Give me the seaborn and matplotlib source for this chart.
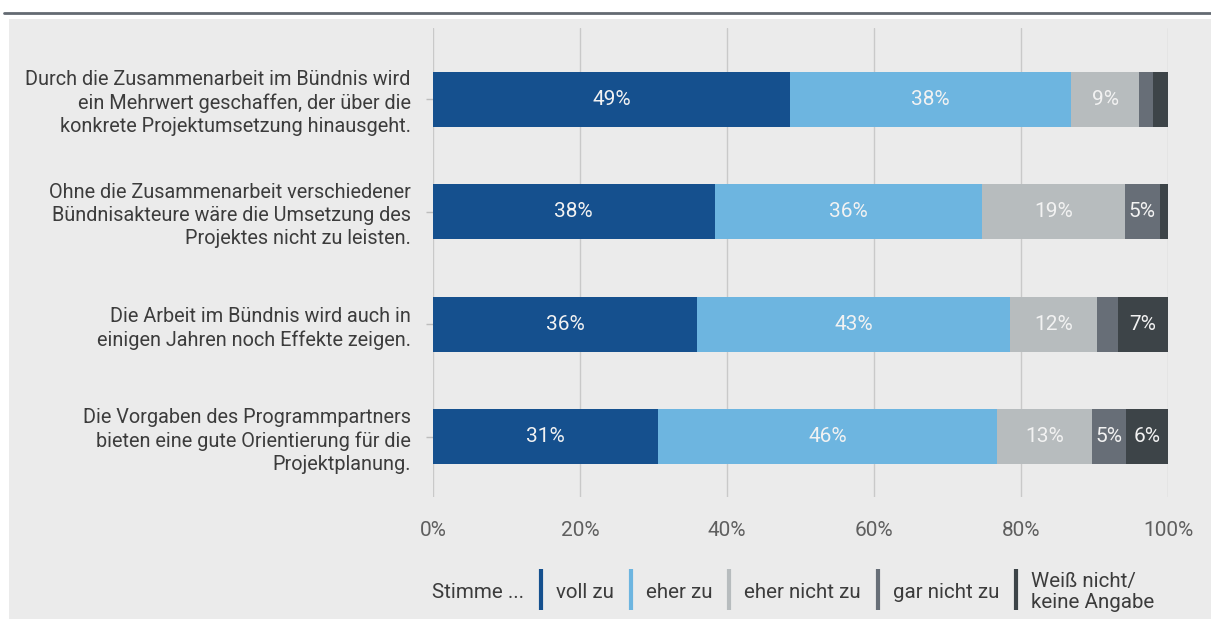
import matplotlib
matplotlib.use("Agg")
import matplotlib.pyplot as plt
from matplotlib.lines import Line2D
from matplotlib.patches import Rectangle
import numpy as np
import pandas as pd
import seaborn as sns

statements = [
    "Durch die Zusammenarbeit im Bündnis wird\nein Mehrwert geschaffen, der über die\nkonkrete Projektumsetzung hinausgeht.",
    "Ohne die Zusammenarbeit verschiedener\nBündnisakteure wäre die Umsetzung des\nProjektes nicht zu leisten.",
    "Die Arbeit im Bündnis wird auch in\neinigen Jahren noch Effekte zeigen.",
    "Die Vorgaben des Programmpartners\nbieten eine gute Orientierung für die\nProjektplanung.",
]
answers = ["voll zu", "eher zu", "eher nicht zu", "gar nicht zu", "Weiß nicht/\nkeine Angabe"]

voll_zu = [48.6, 38.3, 35.9, 30.6]
eher_zu = [38.2, 36.4, 42.6, 46.2]
eher_nicht_zu = [9.3, 19.4, 11.8, 12.9]
gar_nicht_zu = [1.9, 4.8, 2.9, 4.6]
weiss_nicht = [2.0, 1.1, 6.8, 5.7]

xticks = [0, 20, 40, 60, 80, 100]
legend_lead = "Stimme ..."

colors = ["#15508e", "#6db5e0", "#b7bcbe", "#676e77", "#3d4448"]

W, H = 1211, 619
sns.set_theme(style="white")
plt.rcParams["font.family"] = ["Roboto", "DejaVu Sans"]

fig = plt.figure(figsize=(W / 100, H / 100), dpi=100)
fig.patch.set_facecolor("white")


def fx(px):
    return px / W


def fy(py):
    return 1 - py / H


# panel background and top rule
fig.add_artist(Rectangle((fx(9), 0), 1 - fx(9), fy(19), transform=fig.transFigure,
                         facecolor="#ebebeb", edgecolor="none", zorder=-10))
fig.add_artist(Line2D([fx(4), 1], [fy(13), fy(13)], transform=fig.transFigure,
                      color="#636a72", lw=2))

ax = fig.add_axes([fx(433), fy(497), fx(1168) - fx(433), fy(28) - fy(497)])
ax.set_facecolor("none")

vals = np.array([voll_zu, eher_zu, eher_nicht_zu, gar_nicht_zu, weiss_nicht]).T
cum = np.cumsum(vals, axis=1)

df = pd.DataFrame(cum, columns=answers)
df["Aussage"] = statements

# stacked bars: draw cumulative totals from the back to the front
for j in reversed(range(len(answers))):
    sns.barplot(data=df, x=answers[j], y="Aussage", order=statements, color=colors[j],
                saturation=1, width=0.49, orient="h", ax=ax, linewidth=0, zorder=3)

for i in range(len(statements)):
    for j in range(len(answers)):
        v = vals[i, j]
        if v >= 4:
            ax.text(cum[i, j] - v / 2, i, f"{int(v + 0.5)}%", ha="center", va="center",
                    color="#f2f2f2", fontsize=15, zorder=5)

ax.set_xlim(0, 100)
ax.set_ylim(3.536, -0.633)
ax.set_xticks(xticks)
ax.set_xticklabels([f"{t}%" for t in xticks])
ax.set_xlabel("")
ax.set_ylabel("")
ax.xaxis.grid(True, color="#c9c9c9", lw=1)
ax.yaxis.grid(False)
ax.set_axisbelow(True)
for s in ax.spines.values():
    s.set_visible(False)
ax.tick_params(axis="x", length=0, pad=17, labelsize=15, labelcolor="#5f5f5f")
ax.tick_params(axis="y", left=True, length=5, width=1, color="#bdbdbd", pad=11,
               labelsize=14.3, labelcolor="#3c3c3c")
for lab in ax.get_yticklabels():
    lab.set_linespacing(1.27)

# legend row
fig.canvas.draw()
renderer = fig.canvas.get_renderer()
x = 432
t = fig.text(fx(x), fy(592), legend_lead, ha="left", va="center", fontsize=14.8, color="#3c3c3c")
x = t.get_window_extent(renderer).x1
for j, name in enumerate(answers):
    bx = x + 17
    fig.add_artist(Line2D([fx(bx), fx(bx)], [fy(569), fy(610)], transform=fig.transFigure,
                          color=colors[j], lw=3, solid_capstyle="butt"))
    t = fig.text(fx(bx + 15), fy(592), name, ha="left", va="center", fontsize=14.8,
                 color="#3c3c3c", linespacing=1.2)
    x = t.get_window_extent(renderer).x1

fig.savefig("out.png", dpi=100, facecolor=fig.get_facecolor())
